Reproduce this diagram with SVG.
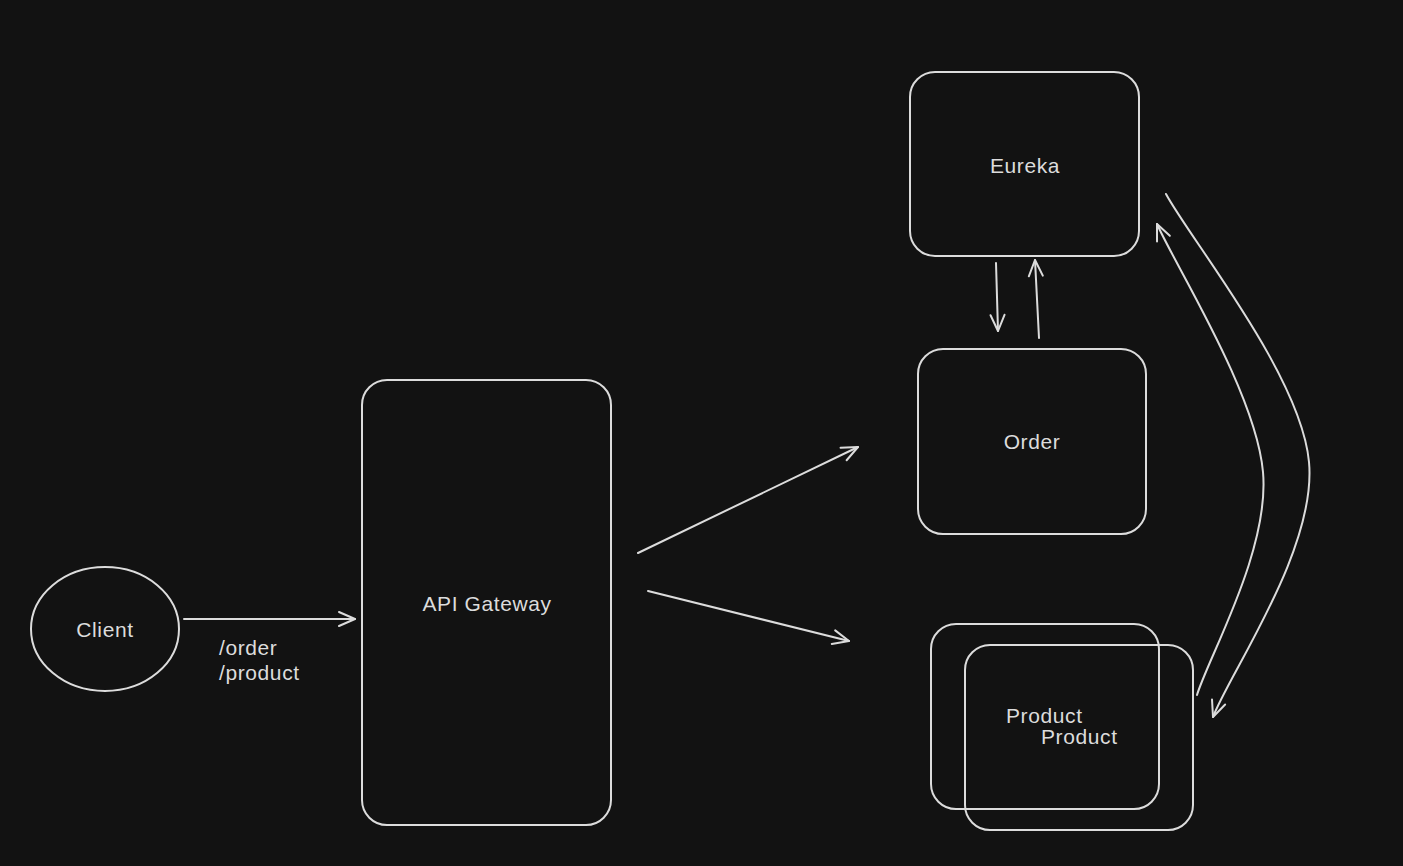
<svg xmlns="http://www.w3.org/2000/svg" width="1403" height="866" viewBox="0 0 1403 866">
<defs>
<style>
.shape{fill:none;stroke:#dcdcdc;stroke-width:2}
.edge{fill:none;stroke:#dcdcdc;stroke-width:2;stroke-linecap:round}
.label{font-family:"Liberation Sans",Arial,sans-serif;font-size:21px;letter-spacing:0.6px;fill:#dcdcdc}
.mid{text-anchor:middle;dominant-baseline:central}
</style>
<marker id="arrow" viewBox="0 0 20 20" refX="18" refY="10" markerWidth="20" markerHeight="20" markerUnits="userSpaceOnUse" orient="auto">
<path d="M2,3 L18,10 L2,17" fill="none" stroke="#dcdcdc" stroke-width="2" stroke-linecap="round" stroke-linejoin="round"/>
</marker>
</defs>
<rect width="1403" height="866" fill="#121212"/>
<g id="client">
<ellipse class="shape" cx="105" cy="629" rx="74" ry="62"/>
<text class="label mid" x="105" y="629">Client</text>
</g>
<g id="api-gateway">
<rect class="shape" x="362" y="380" width="249" height="445" rx="25"/>
<text class="label mid" x="487" y="603">API Gateway</text>
</g>
<g id="eureka">
<rect class="shape" x="910" y="72" width="229" height="184" rx="25"/>
<text class="label mid" x="1025" y="165">Eureka</text>
</g>
<g id="order">
<rect class="shape" x="918" y="349" width="228" height="185" rx="25"/>
<text class="label mid" x="1032" y="441">Order</text>
</g>
<g id="product-1">
<rect class="shape" x="931" y="624" width="228" height="185" rx="25"/>
<text class="label" x="1006" y="723">Product</text>
</g>
<g id="product-2">
<rect class="shape" x="965" y="645" width="228" height="185" rx="25"/>
<text class="label" x="1041" y="744">Product</text>
</g>
<g id="connectors">
<path class="edge" d="M184,619 L355,619" marker-end="url(#arrow)"/>
<text class="label" x="219" y="655">/order</text>
<text class="label" x="219" y="680">/product</text>
<path class="edge" d="M638,553 L858,447" marker-end="url(#arrow)"/>
<path class="edge" d="M648,591 L849,641" marker-end="url(#arrow)"/>
<path class="edge" d="M996,263 L998,331" marker-end="url(#arrow)"/>
<path class="edge" d="M1039,338 L1035,260" marker-end="url(#arrow)"/>
<path class="edge" d="M1197,695 C1208,658 1270,550 1263,472 C1256,393 1175,265 1157,224" marker-end="url(#arrow)"/>
<path class="edge" d="M1166,194 C1190,239 1301,375 1309,462 C1317,549 1229,674 1213,717" marker-end="url(#arrow)"/>
</g>
</svg>
